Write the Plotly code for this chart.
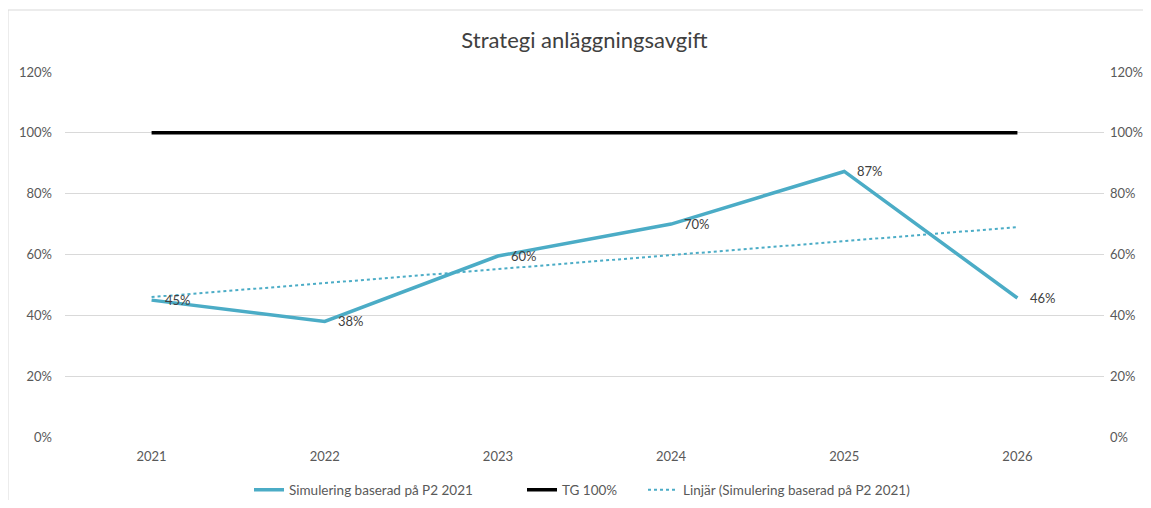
import plotly.graph_objects as go

years = ["2021", "2022", "2023", "2024", "2025", "2026"]
sim_values = [0.45, 0.38, 0.595, 0.70, 0.873, 0.457]
sim_labels = ["45%", "38%", "60%", "70%", "87%", "46%"]
tg_values = [1.0, 1.0, 1.0, 1.0, 1.0, 1.0]
trend_years = ["2021", "2026"]
trend_values = [0.46, 0.69]
y_ticks = [0, 0.2, 0.4, 0.6, 0.8, 1.0, 1.2]
y_tick_labels = ["0%", "20%", "40%", "60%", "80%", "100%", "120%"]

FONT = "Lato, 'Open Sans', sans-serif"
TXT = "#595959"
BLUE = "#4BACC6"

W, H = 1135, 492
L, R, T, B = 57, 39, 64, 63
PW = W - L - R
PH = H - T - B

def px_to_paper_x(px):
    return (px - L) / PW

def px_to_paper_y(py):
    return (H - B - py) / PH

fig = go.Figure()
fig.add_trace(go.Scatter(
    x=years, y=sim_values, mode="lines", name="Simulering baserad på P2 2021",
    line=dict(color=BLUE, width=3.5), legend="legend",
))
fig.add_trace(go.Scatter(
    x=years, y=tg_values, mode="lines", name="TG 100%",
    line=dict(color="#000000", width=3.5), legend="legend2",
))
fig.add_trace(go.Scatter(
    x=trend_years, y=trend_values, mode="lines", name="Linjär (Simulering baserad på P2 2021)",
    line=dict(color=BLUE, width=2, dash="dot"), legend="legend3",
))
# invisible trace for right axis
fig.add_trace(go.Scatter(x=years, y=sim_values, yaxis="y2", mode="lines",
                         line=dict(width=0), showlegend=False, hoverinfo="skip", opacity=0))

annotations = [
    dict(x=i, y=v, xref="x", yref="y", text=lab, showarrow=False,
         xanchor="left", yanchor="middle", xshift=11,
         font=dict(family=FONT, size=13, color="#404040"))
    for i, (v, lab) in enumerate(zip(sim_values, sim_labels))
]

leg_y = px_to_paper_y(482)
def leg(xpx):
    return dict(orientation="h", x=px_to_paper_x(xpx), xanchor="left", y=leg_y,
                yanchor="middle", font=dict(size=13.5, color=TXT), itemwidth=30,
                bgcolor="rgba(0,0,0,0)")

fig.update_layout(
    width=W, height=H,
    margin=dict(l=L, r=R, t=T, b=B, autoexpand=False),
    paper_bgcolor="white", plot_bgcolor="white",
    font=dict(family=FONT, color=TXT, size=13),
    title=dict(text="Strategi anläggningsavgift", x=0.5, xref="paper", xanchor="center",
               y=1 - 32 / H, yanchor="middle",
               font=dict(family=FONT, size=22, color="#404040")),
    xaxis=dict(type="category", range=[-0.5, 5.5], showgrid=False, zeroline=False,
               showline=False, ticks="", ticklabelstandoff=10, automargin=False,
               tickfont=dict(size=13, color=TXT)),
    yaxis=dict(range=[0, 1.2], tickvals=y_ticks, ticktext=y_tick_labels,
               showgrid=True, gridcolor="#d9d9d9", gridwidth=1, zeroline=False,
               ticks="", ticklabelstandoff=12, automargin=False,
               tickfont=dict(size=13, color=TXT)),
    yaxis2=dict(range=[0, 1.2], tickvals=y_ticks, ticktext=y_tick_labels,
                overlaying="y", side="right", showgrid=False, zeroline=False,
                ticks="", ticklabelstandoff=5, automargin=False,
                tickfont=dict(size=13, color=TXT)),
    legend=leg(241),
    legend2=leg(514),
    legend3=leg(635),
    showlegend=True,
    annotations=annotations,
    shapes=[dict(type="rect", xref="paper", yref="paper",
                 x0=px_to_paper_x(0), x1=1.2, y0=-0.4, y1=px_to_paper_y(2),
                 line=dict(color="#d9d9d9", width=1), layer="below")],
)

fig.write_html("out.html")
